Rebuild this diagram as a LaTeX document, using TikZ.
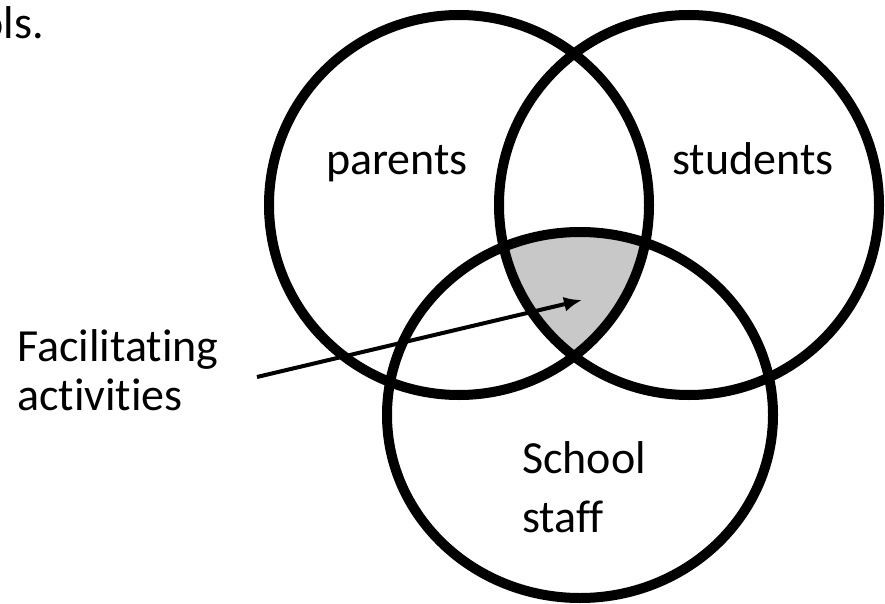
\documentclass[tikz,border=0pt]{standalone}
\usepackage{fontspec}
\setmainfont{Carlito}[Ligatures=NoCommon]
\usetikzlibrary{shapes.geometric, arrows.meta}
\definecolor{lensgray}{RGB}{200,200,200}

\begin{document}
\begin{tikzpicture}[x=1pt, y=-1pt,
    set/.style={ellipse, draw, line width=10pt, inner sep=0pt},
    lbl/.style={font=\fontsize{46}{59}\selectfont, inner sep=0pt, align=left, anchor=base west}]
  \useasboundingbox (0,0) rectangle (885,604);
  % common part of the three sets
  \begin{scope}
    \clip (459,205) ellipse [x radius=190pt, y radius=190pt];
    \clip (689,205) ellipse [x radius=190pt, y radius=190pt];
    \fill[lensgray] (580,415) ellipse [x radius=193pt, y radius=183pt];
  \end{scope}
  \node[set, minimum width=380pt, minimum height=380pt] (parents) at (459,205) {};
  \node[set, minimum width=380pt, minimum height=380pt] (students) at (689,205) {};
  \node[set, minimum width=386pt, minimum height=366pt] (staff) at (580,415) {};
  % labels
  \node[lbl, anchor=base east] (cut) at (44,39) {ols.};
  \node[lbl] (parentslbl) at (326,175) {parents};
  \node[lbl] (studentslbl) at (672,175) {students};
  \node[lbl] (stafflbl) at (522,532) {School\\staff};
  \node[lbl, font=\fontsize{46}{49}\selectfont] (faclbl) at (17,410) {Facilitating\\activities};
  % pointer
  \coordinate (tail) at (257,377);
  \coordinate (tip) at (582,300);
  \draw[line width=4pt, -{Latex[length=18pt, width=15pt]}] (tail) -- (tip);
\end{tikzpicture}
\end{document}
